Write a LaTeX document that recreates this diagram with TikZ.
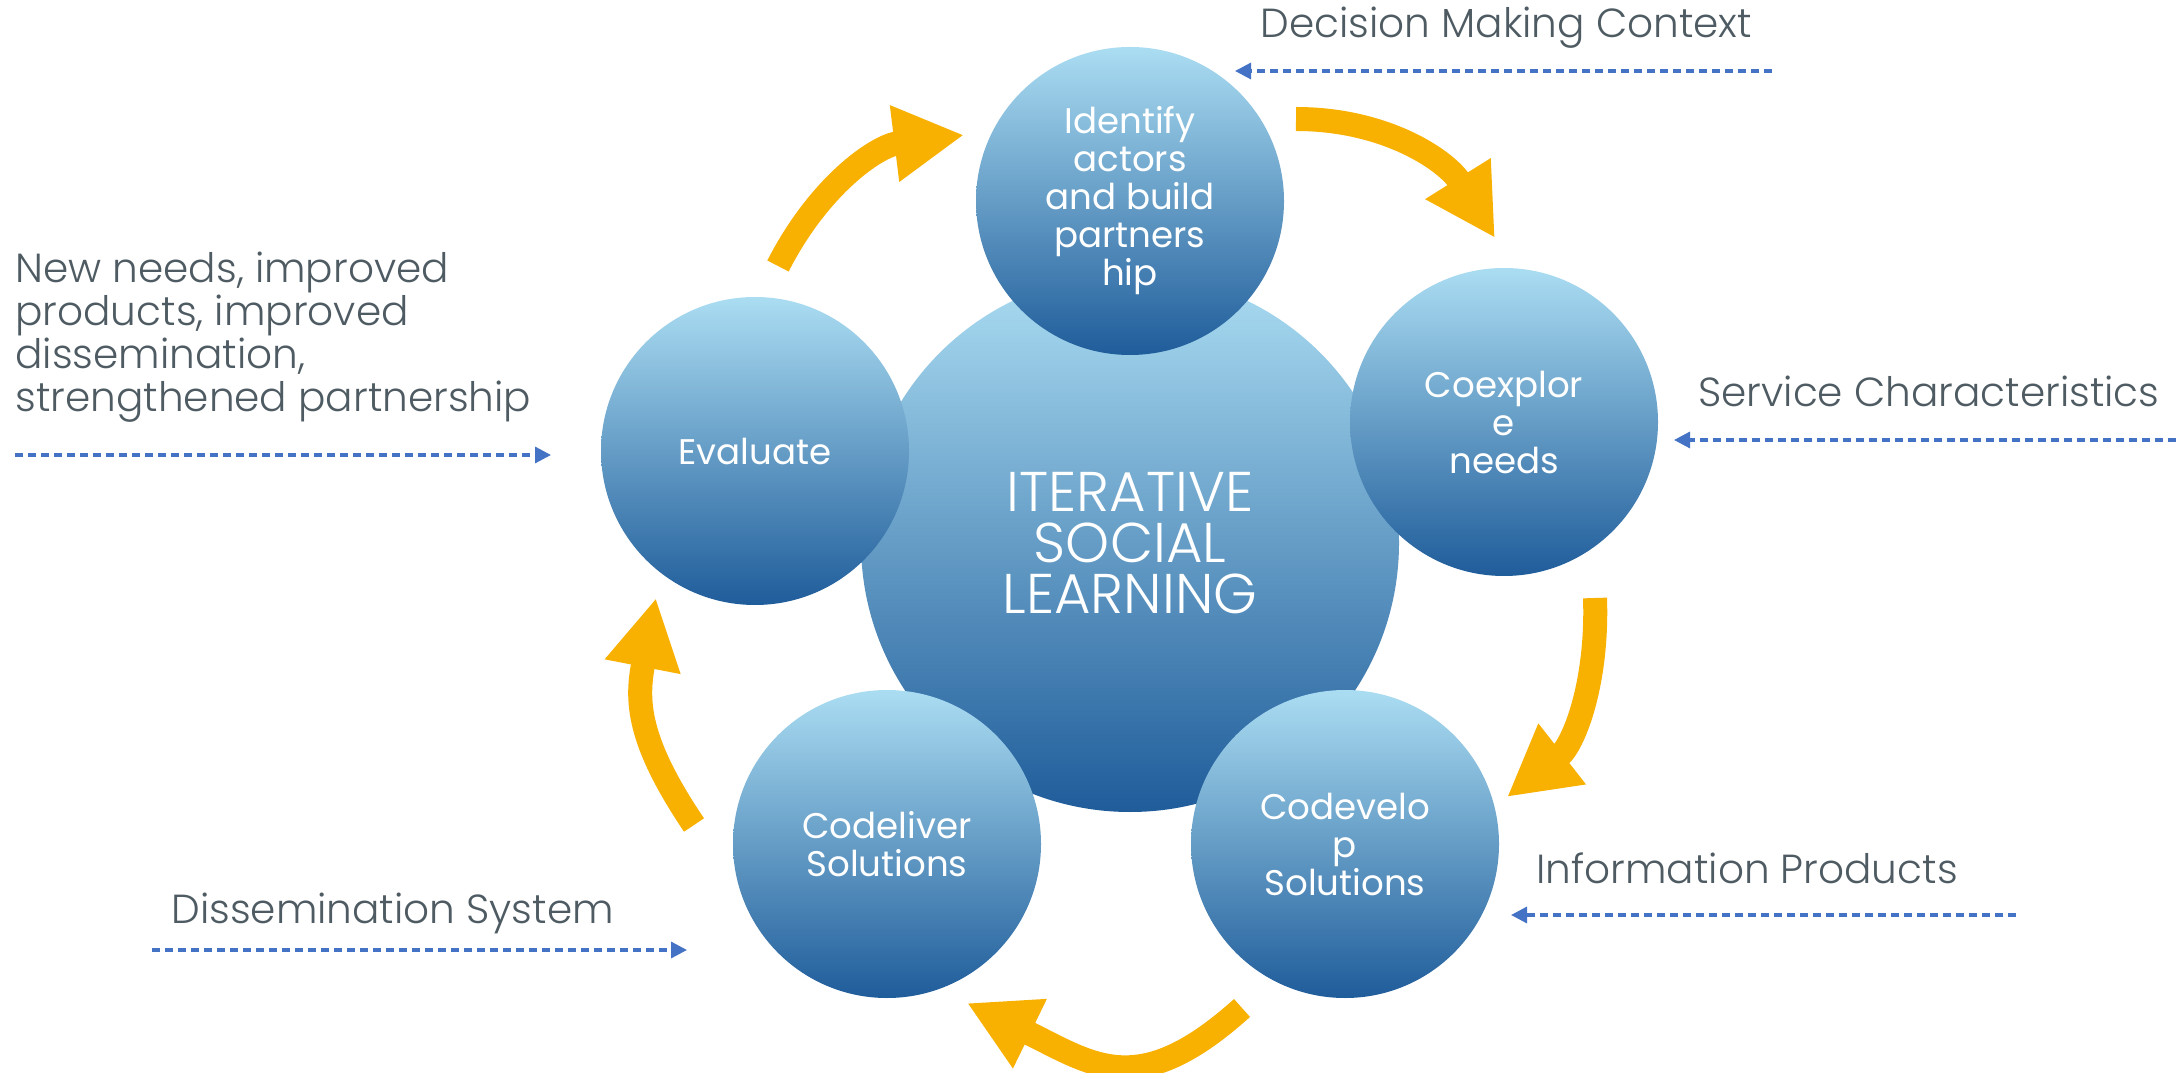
\documentclass[tikz,border=0pt]{standalone}
\usepackage{fontspec}
\setmainfont{Poppins}
\IfFontExistsTF{Poppins Light}{\newfontfamily\thinfont{Poppins Light}}{\newfontfamily\thinfont{Poppins}}
\usetikzlibrary{positioning, arrows.meta, shapes}
\definecolor{ringlight}{HTML}{ABDDF2}
\definecolor{ringdark}{HTML}{1F5C9A}
\definecolor{loopgold}{HTML}{F8B100}
\definecolor{flowblue}{HTML}{4472C4}
\definecolor{labelgrey}{HTML}{4E5B62}

\begin{document}
\begin{tikzpicture}[
	x=0.5pt,
	y=0.5pt,
	stage/.style={circle, minimum size=154pt, inner sep=0pt, top color=ringlight, bottom color=ringdark, text=white, align=center, font=\fontsize{17.8}{19}\selectfont},
	hub/.style={stage, minimum size=269pt, font=\thinfont\fontsize{28}{25.5}\selectfont},
	loop arrow/.style={draw=loopgold, line width=12pt, -{Triangle[length=35pt, width=36pt]}},
	flow/.style={draw=flowblue, line width=1.6pt, dash pattern=on 4.2pt off 2.3pt, -{Triangle[length=8pt, width=8pt]}},
	side label/.style={text=labelgrey, inner sep=0pt, align=left, font=\thinfont\fontsize{20.3}{21.5}\selectfont}
]

\fill[white] (0,0) rectangle (2184,1072);
\useasboundingbox (0,0) rectangle (2184,1072);

% the hub and the five stages
\node[hub] (learn) at (1130,529) {ITERATIVE\\SOCIAL\\LEARNING};
\node[stage] (ident) at (1130,871) {Identify\\actors\\and build\\partners\\hip};
\node[stage] (explore) at (1504,650) {Coexplor\\e\\needs};
\node[stage] (develop) at (1345,228) {Codevelo\\p\\Solutions};
\node[stage] (deliver) at (887,228) {Codeliver\\Solutions};
\node[stage] (eval) at (755,621) {Evaluate};

% loop arrows
\coordinate (a1s) at (778,806);  \coordinate (a1e) at (964,937);
\coordinate (a2s) at (1296,953); \coordinate (a2e) at (1495,834);
\coordinate (a3s) at (1595,474); \coordinate (a3e) at (1507,275);
\coordinate (a4s) at (1242,64);  \coordinate (a4e) at (967,69);
\coordinate (a5s) at (694,247);  \coordinate (a5e) at (656,474);

\draw[loop arrow] (a1s) to[out=63, in=187] (a1e);
\draw[loop arrow] (a2s) to[out=0, in=122] (a2e);
\draw[loop arrow] (a3s) to[out=-88, in=38] (a3e);
\draw[loop arrow] (a4s) to[out=222, in=-26, looseness=1.3] (a4e);
\draw[loop arrow] (a5s) to[out=124, in=259, looseness=1.15] (a5e);

% side labels
\node[side label, anchor=base west] (context) at (1260,1034) {Decision Making Context};
\node[side label, anchor=base west] (service) at (1698,665) {Service Characteristics};
\node[side label, anchor=base west] (info) at (1536,189) {Information Products};
\node[side label, anchor=base west] (dissem) at (171,149) {Dissemination System};
\node[side label, anchor=north west] (needs) at (15,820) {New needs, improved\\products, improved\\dissemination,\\strengthened partnership};

\coordinate (contextR) at (1772,1001); \coordinate (contextL) at (1235,1001);
\coordinate (serviceR) at (2176,632);  \coordinate (serviceL) at (1674,632);
\coordinate (infoR) at (2016,157);     \coordinate (infoL) at (1511,157);
\coordinate (dissemL) at (152,122);    \coordinate (dissemR) at (687,122);
\coordinate (needsL) at (15,617);      \coordinate (needsR) at (551,617);

\draw[flow] (contextR) -- (contextL);
\draw[flow] (serviceR) -- (serviceL);
\draw[flow] (infoR) -- (infoL);
\draw[flow] (dissemL) -- (dissemR);
\draw[flow] (needsL) -- (needsR);

\end{tikzpicture}
\end{document}
